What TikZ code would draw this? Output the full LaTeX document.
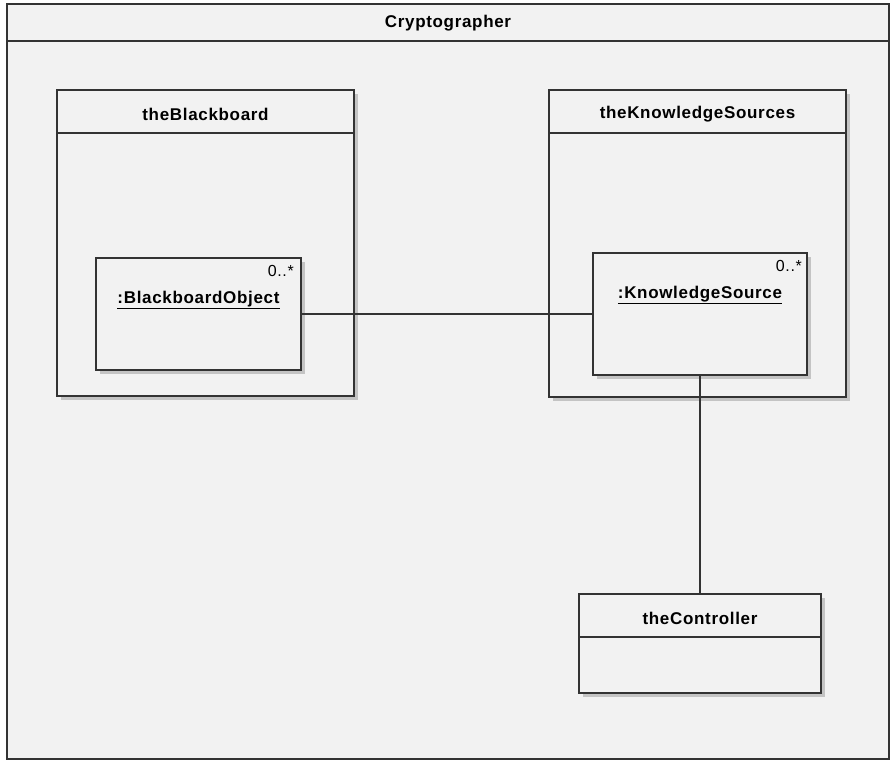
\documentclass[tikz,border=0pt]{standalone}
\usepackage{fontspec}
\setmainfont{Liberation Sans}
\newfontfamily\umlfont[LetterSpace=4]{Liberation Sans}
\usetikzlibrary{shadows}
\definecolor{bg}{HTML}{F2F2F2}
\definecolor{linec}{HTML}{333333}
\definecolor{shad}{HTML}{C4C4C4}
\begin{document}
\begin{tikzpicture}[x=1pt,y=-1pt,
  box/.style={draw=linec, line width=1.3pt, fill=bg, anchor=north west, inner sep=0pt, outer sep=0pt,
    drop shadow={shadow xshift=4pt, shadow yshift=-4pt, fill=shad, opacity=1}},
  framebox/.style={draw=linec, line width=1.5pt, fill=bg, anchor=north west, inner sep=0pt, outer sep=0pt},
  ttl/.style={font=\umlfont\bfseries\fontsize{17}{20}\selectfont, text=black, inner sep=0pt},
  mult/.style={font=\umlfont\fontsize{16}{18}\selectfont, text=black, inner sep=0pt, anchor=east},
  conn/.style={draw=linec, line width=1.2pt}]
\useasboundingbox (0,0) rectangle (893,762);
\fill[white] (0,0) rectangle (893,762);
% outer frame
\node[framebox, minimum width=882pt, minimum height=755pt] (frame) at (7,4) {};
\draw[conn] (frame.north west) ++(0,37) -- ++(882,0);
\node[ttl] (ftitle) at (448,23) {Cryptographer};
% theBlackboard
\node[box, minimum width=297pt, minimum height=306pt] (bb) at (57,90) {};
\draw[conn] (bb.north west) ++(0,43) -- ++(297,0);
\node[ttl] (bbtitle) at (205.5,114) {theBlackboard};
% :BlackboardObject
\node[box, minimum width=205pt, minimum height=112pt] (bbo) at (96,258) {};
\node[mult] (bbom) at (294,271) {0..*};
\node[ttl] (bbot) at (198.5,300) {\underline{:BlackboardObject}};
% theKnowledgeSources
\node[box, minimum width=297pt, minimum height=307pt] (kss) at (549,90) {};
\draw[conn] (kss.north west) ++(0,43) -- ++(297,0);
\node[ttl] (ksstitle) at (697.5,114) {theKnowledgeSources};
% :KnowledgeSource
\node[box, minimum width=214pt, minimum height=122pt] (ks) at (593,253) {};
\node[mult] (ksm) at (802,266) {0..*};
\node[ttl] (kst) at (700,295) {\underline{:KnowledgeSource}};
% theController
\node[box, minimum width=242pt, minimum height=99pt] (ctrl) at (579,594) {};
\draw[conn] (ctrl.north west) ++(0,43) -- ++(242,0);
\node[ttl] (ctrlt) at (700,618) {theController};
% connectors
\draw[conn] (bbo.east) -- (ks.west);
\draw[conn] (ks.south) -- (ctrl.north);
\end{tikzpicture}
\end{document}
